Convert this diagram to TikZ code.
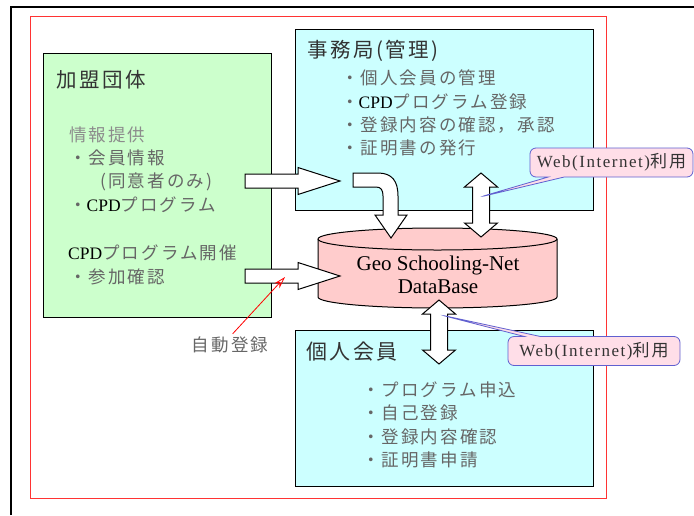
\documentclass[tikz,border=0pt]{standalone}
\usepackage{fontspec}
\setmainfont{Noto Sans CJK JP}[LetterSpace=12]
\newfontfamily\lat{Liberation Serif}
\newfontfamily\latsp{Liberation Serif}[LetterSpace=9]
\usetikzlibrary{shapes.callouts,arrows.meta,positioning}
\definecolor{kameigreen}{RGB}{204,255,204}
\definecolor{jimucyan}{RGB}{204,255,255}
\definecolor{dbpink}{RGB}{255,204,204}
\definecolor{notepink}{RGB}{255,222,232}
\definecolor{noteblue}{RGB}{96,96,208}
\newcommand{\cpd}{{\lat\color{black}CPD}}
\tikzset{
  box/.style={draw,line width=1pt,fill=#1,minimum width=298pt,anchor=north west,inner sep=0pt},
  head/.style={anchor=west,inner sep=0pt,text=black!80,font=\fontsize{20.5}{22}\selectfont},
  item/.style={anchor=west,inner sep=0pt,text=black!60,font=\fontsize{17.5}{19}\selectfont},
  block/.style={draw,line width=1pt,fill=white,line join=miter},
  webnote/.style={rectangle callout,rounded corners=6pt,draw=noteblue,fill=notepink,line width=0.8pt,
    minimum height=29pt,inner sep=0pt,callout pointer width=16pt,
    font=\latsp\fontsize{17}{18}\selectfont,text=black!80}
}
\begin{document}
\begin{tikzpicture}[x=1pt,y=-1pt]
\useasboundingbox (0,0) rectangle (694,515);
% frames
\draw[line width=1.5pt] (11,515) -- (11,7) -- (694,7);
\draw[red!80,line width=0.8pt] (30,16) rectangle (606,498);
% boxes
\node[box=kameigreen,minimum width=228pt,minimum height=264pt] (kamei) at (43,53) {};
\node[box=jimucyan,minimum height=181pt] (jimu) at (295,29) {};
\node[box=jimucyan,minimum height=156pt] (kojin) at (295,330) {};
% database
\draw[fill=dbpink,line width=1pt] (318,239) -- (318,297)
  arc[start angle=180,end angle=0,x radius=119.5,y radius=11] -- (557,239)
  arc[start angle=360,end angle=180,x radius=119.5,y radius=11] -- cycle;
\draw[line width=1pt] (318,239) arc[start angle=180,end angle=0,x radius=119.5,y radius=11];
\node[align=center,font=\lat\fontsize{21}{23}\selectfont] (db) at (438,275) {Geo Schooling-Net\\DataBase};
% titles
\node[head] (kameit) at (56,80) {加盟団体};
\node[head] (jimut) at (307,51) {事務局(管理)};
\node[head,font=\fontsize{21}{22}\selectfont] (kojint) at (306,352) {個人会員};
% lists
\node[item,text=black!45] (joho) at (69,135) {情報提供};
\node[item] (kamei1) at (69,158) {・会員情報};
\node[item] (kamei2) at (100,182) {(同意者のみ)};
\node[item] (kamei3) at (69,205) {・\cpd プログラム};
\node[item] (kaisai) at (68,253) {\cpd プログラム開催};
\node[item] (sanka) at (69,277) {・参加確認};
\foreach \t [count=\i] in {個人会員の管理,\cpd プログラム登録,登録内容の確認，承認,証明書の発行}
  \node[item] (jimu\i) at (341,55+23.3*\i) {・\t};
\foreach \t [count=\i] in {プログラム申込,自己登録,登録内容確認,証明書申請}
  \node[item] (kojin\i) at (362,366+23.5*\i) {・\t};
% block arrows
\foreach \y in {181,276}
  \draw[block] (245,\y-7) -- (298,\y-7) -- (298,\y-13.5) -- (340,\y) -- (298,\y+13.5) -- (298,\y+7) -- (245,\y+7) -- cycle;
\draw[block] (353,173) -- (378,173) .. controls (392,173) and (398,181) .. (398,196) -- (398,215) -- (407,215)
  -- (391,238) -- (375,215) -- (383,215) -- (383,196) .. controls (383,190) and (381,187) .. (376,187) -- (353,187) -- cycle;
\foreach \x/\t/\b in {481/173/237,439/300/364}
  \draw[block] (\x,\t) -- (\x+16.5,\t+14) -- (\x+8.5,\t+14) -- (\x+8.5,\b-14) -- (\x+16.5,\b-14) -- (\x,\b)
    -- (\x-16.5,\b-14) -- (\x-8.5,\b-14) -- (\x-8.5,\t+14) -- (\x-16.5,\t+14) -- cycle;
% auto registration
\node[item,anchor=center] (auto) at (230,345) {自動登録};
\coordinate (autotip) at (285,277);
\draw[red,line width=0.8pt,shorten <=4pt,-{Stealth[open,length=12pt,width=7pt]}] (auto.north) -- (autotip);
% web notes
\node[webnote,minimum width=163pt,callout absolute pointer={(480,197)}] (web1) at (611.5,162.5) {Web(Internet){\normalfont 利用}};
\node[webnote,minimum width=172pt,callout absolute pointer={(441,315)}] (web2) at (594,351) {Web(Internet){\normalfont 利用}};
\end{tikzpicture}
\end{document}
